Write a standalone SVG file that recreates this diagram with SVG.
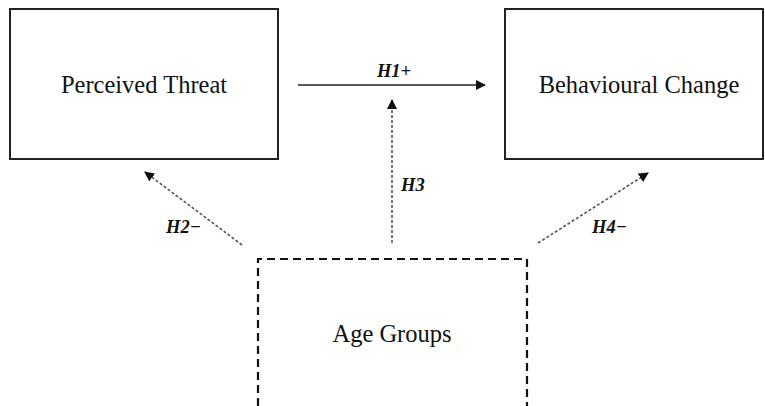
<svg xmlns="http://www.w3.org/2000/svg" width="765" height="406" viewBox="0 0 765 406">
<style>
.box{fill:#fff;stroke:#222;stroke-width:2}
.dbox{fill:none;stroke:#111;stroke-width:2.2;stroke-dasharray:8 5}
.lbl{font-family:"Liberation Serif","Times New Roman",serif;font-size:24.5px;fill:#111;text-anchor:middle}
.h{font-family:"Liberation Serif","Times New Roman",serif;font-size:18.5px;font-weight:bold;font-style:italic;fill:#111}
.solid{stroke:#222;stroke-width:1.5;fill:none}
.dot{stroke:#555;stroke-width:1.6;fill:none;stroke-dasharray:3 2}
</style>
<defs>
<marker id="ah" viewBox="0 0 10 10" refX="9" refY="5" markerWidth="10" markerHeight="10" markerUnits="userSpaceOnUse" orient="auto">
<path d="M0,0 L10,5 L0,10 z" fill="#111"/>
</marker>
</defs>
<rect width="765" height="406" fill="#fff"/>
<g id="perceived-threat">
<rect class="box" x="10" y="9" width="268" height="150"/>
<text class="lbl" x="144" y="93">Perceived Threat</text>
</g>
<g id="behavioural-change">
<rect class="box" x="505" y="9" width="258" height="150"/>
<text class="lbl" x="639" y="93">Behavioural Change</text>
</g>
<g id="age-groups">
<path class="dbox" d="M258,406 V259 H527 V406"/>
<text class="lbl" x="392" y="342">Age Groups</text>
</g>
<g id="connectors">
<line class="solid" x1="298" y1="85" x2="485" y2="85" marker-end="url(#ah)"/>
<line class="dot" x1="392" y1="243" x2="392" y2="100" marker-end="url(#ah)"/>
<line class="dot" x1="242" y1="245" x2="145" y2="172" marker-end="url(#ah)"/>
<line class="dot" x1="538" y1="243" x2="648" y2="173" marker-end="url(#ah)"/>
<text class="h" x="394" y="77" text-anchor="middle">H1+</text>
<text class="h" x="401" y="191">H3</text>
<text class="h" x="166" y="233">H2−</text>
<text class="h" x="592" y="233">H4−</text>
</g>
</svg>
